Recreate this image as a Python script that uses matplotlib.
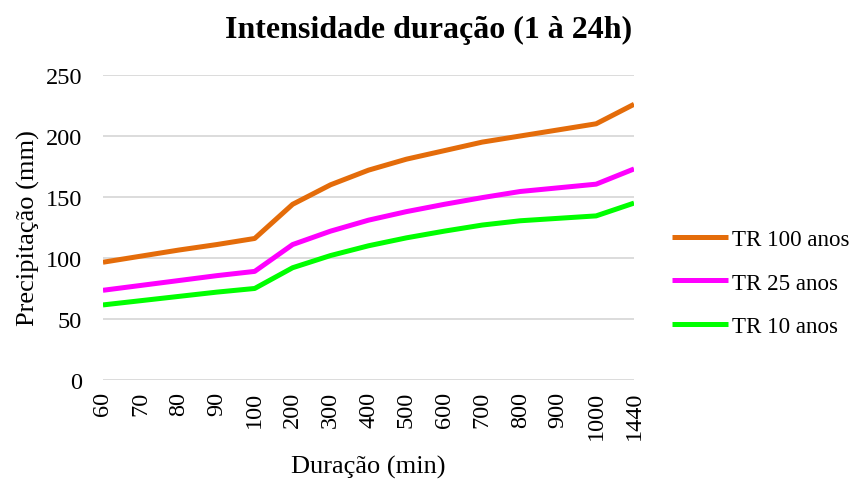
import matplotlib
matplotlib.use("Agg")
import matplotlib.pyplot as plt

plt.rcParams['font.family'] = ['Liberation Serif', 'DejaVu Serif']

categories = ["60", "70", "80", "90", "100", "200", "300", "400", "500",
              "600", "700", "800", "900", "1000", "1440"]
tr100 = [96.5, 101.5, 106.5, 111, 116, 144, 160, 172, 181, 188, 195, 200, 205, 210, 226]
tr25 = [73.5, 77.5, 81.5, 85.5, 89, 111, 122, 131, 138, 144, 149.5, 154.5, 157.5, 160.5, 173]
tr10 = [61.5, 65, 68.5, 72, 75, 92, 102, 110, 116.5, 122, 127, 130.5, 132.5, 134.5, 145]

series_names = ["TR 100 anos", "TR 25 anos", "TR 10 anos"]
colors = ["#E46C0A", "#FF00FF", "#00FF00"]

fig = plt.figure(figsize=(8.58, 4.81), dpi=100)
ax = fig.add_axes([0.120, 0.208, 0.619, 0.634])

x = list(range(len(categories)))
for vals, name, c in zip([tr100, tr25, tr10], series_names, colors):
    ax.plot(x, vals, color=c, lw=3.6, label=name, solid_capstyle='butt', solid_joinstyle='round')

ax.set_xlim(0, len(categories) - 1)
ax.set_ylim(0, 250)
ax.set_yticks([0, 50, 100, 150, 200, 250])
ax.set_xticks(x)
ax.set_xticklabels(categories, rotation=90, fontsize=17.5)
ax.tick_params(axis='y', labelsize=17.5, length=0, pad=15)
ax.tick_params(axis='x', length=0, pad=8)
ax.grid(axis='y', color='#D9D9D9', lw=1.3)
ax.set_axisbelow(True)
for s in ax.spines.values():
    s.set_visible(False)

ax.set_xlabel("Duração (min)", fontsize=19, labelpad=11)
ax.set_ylabel("Precipitação (mm)", fontsize=19, labelpad=4)
fig.text(0.5, 0.937, "Intensidade duração (1 à 24h)", ha='center', va='center',
         fontsize=23, fontweight='bold')

leg = ax.legend(loc='center left', bbox_to_anchor=(1.033, 0.318), frameon=False,
                fontsize=16.6, handlelength=2.4, labelspacing=0.97, handletextpad=0.2)

fig.savefig("out.png", dpi=100)
